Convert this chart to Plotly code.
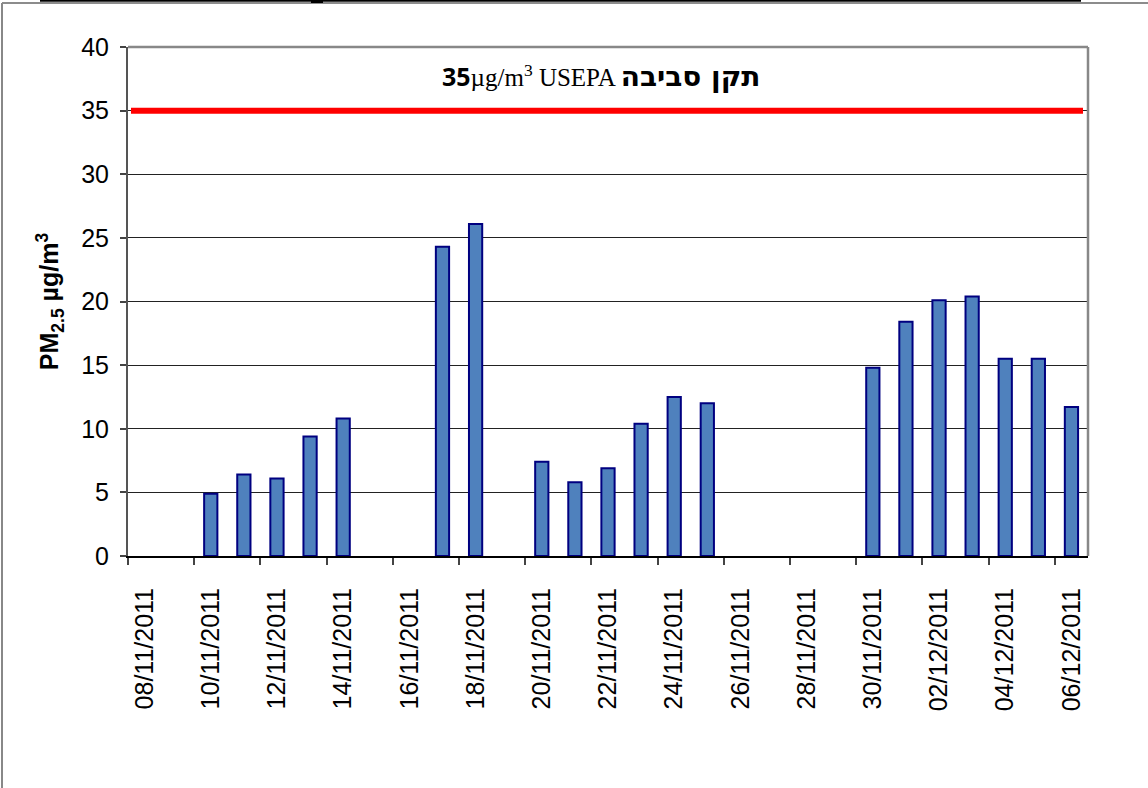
import plotly.graph_objects as go

dates = ["08/11/2011", "09/11/2011", "10/11/2011", "11/11/2011", "12/11/2011",
         "13/11/2011", "14/11/2011", "15/11/2011", "16/11/2011", "17/11/2011",
         "18/11/2011", "19/11/2011", "20/11/2011", "21/11/2011", "22/11/2011",
         "23/11/2011", "24/11/2011", "25/11/2011", "26/11/2011", "27/11/2011",
         "28/11/2011", "29/11/2011", "30/11/2011", "01/12/2011", "02/12/2011",
         "03/12/2011", "04/12/2011", "05/12/2011", "06/12/2011"]
pm25 = [None, None, 4.9, 6.4, 6.1, 9.4, 10.8, None, None, 24.3, 26.1, None,
        7.4, 5.8, 6.9, 10.4, 12.5, 12.0, None, None, None, None,
        14.8, 18.4, 20.1, 20.4, 15.5, 15.5, 11.7]
standard = 35
y_ticks = [0, 5, 10, 15, 20, 25, 30, 35, 40]

W, H = 1148, 788
L, R, T, B = 128, 1088, 47, 556

def px(x):
    return (x - L) / (R - L)

def py(y):
    return (B - y) / (B - T)

fig = go.Figure()
fig.add_trace(go.Bar(
    x=dates, y=pm25,
    marker=dict(color="#4F81BD", line=dict(color="#000080", width=2)),
    showlegend=False,
))

fig.update_layout(
    width=W, height=H,
    margin=dict(l=L, r=W - R, t=T, b=H - B),
    paper_bgcolor="white", plot_bgcolor="white",
    bargap=0.6,
    font=dict(family="Liberation Sans, Arial", size=25, color="black"),
    xaxis=dict(
        type="category", categoryorder="array", categoryarray=dates,
        range=[-0.5, len(dates) - 0.5],
        dtick=2, tickson="boundaries", ticks="outside", ticklen=7,
        tickcolor="#444", tickwidth=2,
        tickangle=-90, ticklabelstandoff=20,
        showgrid=False, showline=True, linecolor="black", linewidth=2,
        tickfont=dict(size=25),
    ),
    yaxis=dict(
        range=[0, 40], tickvals=y_ticks, ticks="outside", ticklen=6,
        tickcolor="#444", tickwidth=1.5,
        showgrid=True, gridcolor="#222", gridwidth=1,
        showline=True, linecolor="#555", linewidth=2,
        zeroline=False, ticklabelstandoff=6,
        tickfont=dict(size=25),
        title=dict(text="<b>PM<sub>2.5</sub> µg/m<sup>3</sup></b>",
                   font=dict(size=25), standoff=15),
    ),
)

shapes = [
    dict(type="line", xref="paper", yref="paper", x0=0, x1=1, y0=1, y1=1,
         line=dict(color="#888", width=2.5)),
    dict(type="line", xref="paper", yref="paper", x0=1, x1=1, y0=0, y1=1,
         line=dict(color="#888", width=2.5)),
    dict(type="line", xref="paper", yref="y", x0=px(131), x1=px(1083),
         y0=standard, y1=standard, line=dict(color="#FF0000", width=6)),
    dict(type="line", xref="paper", yref="paper", x0=px(2), x1=px(1160),
         y0=py(3), y1=py(3), line=dict(color="#666", width=1.5)),
    dict(type="line", xref="paper", yref="paper", x0=px(2), x1=px(2),
         y0=py(3), y1=py(800), line=dict(color="#888", width=2)),
    dict(type="line", xref="paper", yref="paper", x0=px(40), x1=px(1081),
         y0=py(0.8), y1=py(0.8), line=dict(color="black", width=2)),
    dict(type="line", xref="paper", yref="paper", x0=px(311), x1=px(323),
         y0=py(1.5), y1=py(1.5), line=dict(color="black", width=3)),
]
fig.update_layout(shapes=shapes)

fig.add_annotation(
    xref="paper", yref="y", x=px(601), y=37.7, showarrow=False,
    text=("<span style='font-family:Open Sans'><b>35</b></span>µg/m<sup>3</sup> USEPA "
          "<span style='font-family:DejaVu Sans;font-size:28px'><b>תקן סביבה</b></span>"),
    font=dict(family="Liberation Serif, Times New Roman", size=25, color="black"),
)

fig.write_html("out.html", config={"displayModeBar": False},
               post_script="document.body.style.margin='0';")
